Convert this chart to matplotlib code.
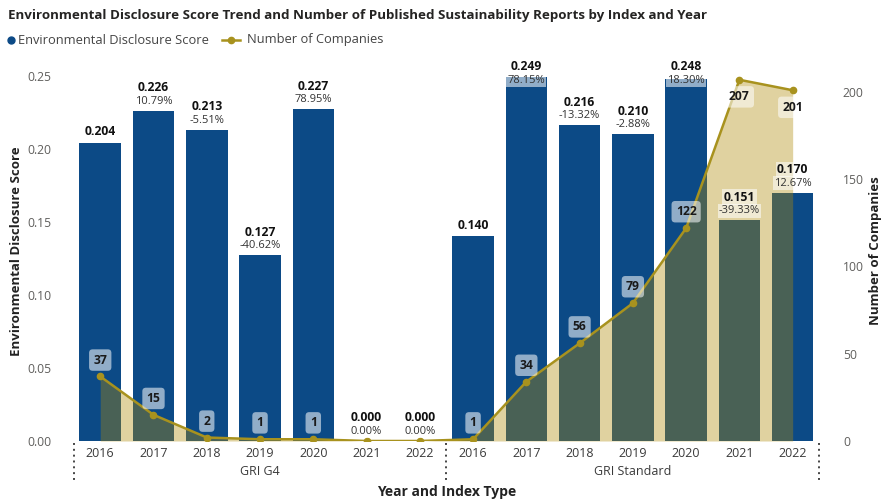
import matplotlib
matplotlib.use('Agg')
import matplotlib.pyplot as plt
from matplotlib.lines import Line2D
import matplotlib.transforms as mtransforms
import numpy as np

# ---------------- data ----------------
years = ['2016', '2017', '2018', '2019', '2020', '2021', '2022']
groups = ['GRI G4', 'GRI Standard']
scores = [0.204, 0.226, 0.213, 0.127, 0.227, 0.000, 0.000,
          0.140, 0.249, 0.216, 0.210, 0.248, 0.151, 0.170]
pct_change = [None, '10.79%', '-5.51%', '-40.62%', '78.95%', '0.00%', '0.00%',
              None, '78.15%', '-13.32%', '-2.88%', '18.30%', '-39.33%', '12.67%']
companies = [37, 15, 2, 1, 1, 0, 0,
             1, 34, 56, 79, 122, 207, 201]

title = 'Environmental Disclosure Score Trend and Number of Published Sustainability Reports by Index and Year'
legend_labels = ['Environmental Disclosure Score', 'Number of Companies']
left_label = 'Environmental Disclosure Score'
right_label = 'Number of Companies'
x_label = 'Year and Index Type'

# ---------------- style ----------------
BLUE = '#0C4A86'
OLIVE = '#A8921E'
FILL = '#AE8905'
GRAY = '#5F5E5C'
FONT = ['Open Sans', 'DejaVu Sans']
plt.rcParams['font.family'] = FONT

W, H = 886, 501
fig = plt.figure(figsize=(W / 100, H / 100), dpi=100)
ax = fig.add_axes([73.6 / W, (H - 441) / H, 745.7 / W, 380 / H])
ax2 = ax.twinx()

x = np.arange(len(scores))
ax.bar(x, scores, width=0.78, color=BLUE, zorder=2)
ax.set_xlim(-0.5, len(scores) - 0.5)
ax.set_ylim(0, 0.26)
ax2.set_ylim(0, 0.26 * 1461.5 / 1.745)

ax2.fill_between(x, companies, 0, color=FILL, alpha=0.38, lw=0, zorder=1)
ax2.plot(x, companies, color=OLIVE, lw=1.8, marker='o', ms=4.5, zorder=3)

for a in (ax, ax2):
    for s in a.spines.values():
        s.set_visible(False)

ax.set_yticks([0, 0.05, 0.10, 0.15, 0.20, 0.25])
ax.set_yticklabels([f'{v:.2f}' for v in [0, 0.05, 0.10, 0.15, 0.20, 0.25]])
ax.tick_params(axis='y', length=0, pad=16, labelsize=8.7, labelcolor=GRAY)
ax2.set_yticks([0, 50, 100, 150, 200])
ax2.tick_params(axis='y', length=0, pad=17, labelsize=8.7, labelcolor=GRAY)
ax.set_xticks(x)
ax.set_xticklabels(years * 2)
ax.tick_params(axis='x', length=0, pad=4.5, labelsize=9, labelcolor='#3a3a3a')

# group labels and separators
trans = mtransforms.blended_transform_factory(ax.transData, ax.transAxes)
n = len(years)
for gi, g in enumerate(groups):
    ax.text(gi * n + (n - 1) / 2, -0.081, g, transform=trans, ha='center', va='center',
            fontsize=9, color='#3a3a3a')
for xs in [-0.5, n - 0.5, 2 * n - 0.5]:
    ax.add_artist(Line2D([xs, xs], [-0.004, -0.105], transform=trans, color='#444444',
                         lw=1.4, ls=(0, (1, 2)), clip_on=False))

# bar labels (drawn on ax2 so they sit above the fill)
for i, (v, p) in enumerate(zip(scores, pct_change)):
    anchor = min(v, 0.2404)
    box = dict(boxstyle='square,pad=0.12', fc='white', alpha=0.55, ec='none')
    if p is None:
        ax2.annotate(f'{v:.3f}', (i, anchor), xycoords=ax.transData, xytext=(0, 8),
                     textcoords='offset points', ha='center', va='center',
                     fontsize=8.7, fontweight='bold', color='#111111', zorder=5, bbox=box)
    else:
        ax2.annotate(p, (i, anchor), xycoords=ax.transData, xytext=(0, 6.8),
                     textcoords='offset points', ha='center', va='center',
                     fontsize=8, color='#333333', zorder=5, bbox=box)
        ax2.annotate(f'{v:.3f}', (i, anchor), xycoords=ax.transData, xytext=(0, 16.6),
                     textcoords='offset points', ha='center', va='center',
                     fontsize=8.7, fontweight='bold', color='#111111', zorder=5, bbox=box)

# company labels
for i, c in enumerate(companies):
    if c <= 0:
        continue
    off = -12.3 if c > 190 else 11.8
    ax2.annotate(str(c), (i, c), xytext=(0, off), textcoords='offset points',
                 ha='center', va='center', fontsize=8.7, fontweight='bold', color='#1a1a1a',
                 zorder=6,
                 bbox=dict(boxstyle='round,pad=0.35,rounding_size=0.3', fc='white',
                           alpha=0.55, ec='none'))

# axis titles
fig.text(17 / W, 1 - 251 / H, left_label, rotation=90, ha='center', va='center',
         fontsize=9.5, fontweight='bold', color='#222222')
fig.text(876 / W, 1 - 251 / H, right_label, rotation=90, ha='center', va='center',
         fontsize=9.5, fontweight='bold', color='#222222')
fig.text(447 / W, 1 - 492 / H, x_label, ha='center', va='center',
         fontsize=10, fontweight='bold', color='#222222')

# title
fig.text(8 / W, 1 - 15 / H, title, ha='left', va='center', fontsize=9.6,
         fontweight='bold', color='#252423')

# legend (manual)
ly = 1 - 40 / H
fig.add_artist(Line2D([11 / W], [ly], marker='o', ms=5, color=BLUE, lw=0,
                      transform=fig.transFigure))
fig.text(18 / W, ly, legend_labels[0], ha='left', va='center', fontsize=9.3, color='#444444')
fig.add_artist(Line2D([222 / W, 240 / W], [ly, ly], color=OLIVE, lw=1.8,
                      transform=fig.transFigure))
fig.add_artist(Line2D([231 / W], [ly], marker='o', ms=4.5, color=OLIVE, lw=0,
                      transform=fig.transFigure))
fig.text(247 / W, ly, legend_labels[1], ha='left', va='center', fontsize=9.3, color='#444444')

fig.savefig('out.png', dpi=100)
